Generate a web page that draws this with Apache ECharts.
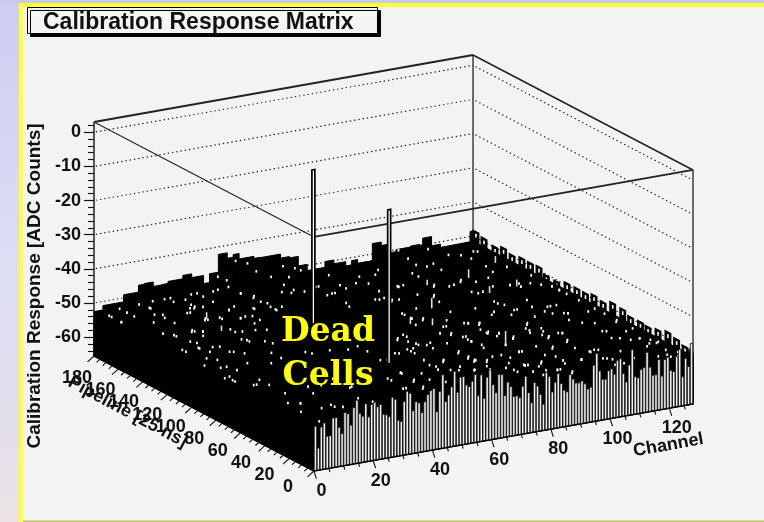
<!DOCTYPE html>
<html><head><meta charset="utf-8">
<style>html,body{margin:0;padding:0;background:#f3f3f3}#c{width:764px;height:522px}</style>
<script src="https://cdn.jsdelivr.net/npm/echarts@6/dist/echarts.min.js"></script>
</head><body><div id="c"></div>
<script>
const chartTitle = 'Calibration Response Matrix';
const valueTicks = [0,-10,-20,-30,-40,-50,-60];
const valueMinorTicks = [2,-2,-4,-6,-8,-12,-14,-16,-18,-22,-24,-26,-28,-32,-34,-36,-38,-42,-44,-46,-48,-52,-54,-56,-58,-62,-64];
const channelTicks = [0,20,40,60,80,100,120];
const channelMinorTicks = [5,10,15,25,30,35,45,50,55,65,70,75,85,90,95,105,110,115,125];
const pipelineTicks = [0,20,40,60,80,100,120,140,160,180];
const pipelineMinorTicks = [5,10,15,25,30,35,45,50,55,65,70,75,85,90,95,105,110,115,125,130,135,145,150,155,165,170,175];
const channelMax = 128, pipelineMax = 180, valueTop = 3, valueFloor = -65.5;

// ADC response of the front row (pipeline 0), one per channel
const frontRow = [-52.5,-59,-53,-52,-56,-56,-51,-51,-54,-56,-50,-50.5,-54,-49,-47,-51,-52,-48.5,-52.5,-49,-48.5,-50,
-49.5,-52.5,-52.8,-53.5,-48,-48.7,-55,-55.5,-49.8,-47,-47.7,-53,-50.5,-51,-54,-51,-49,-48,-47.6,-54.5,-48.7,-44,-52,
-50.2,-48,-43.6,-49.9,-45.6,-45.6,-48.2,-48.8,-47.4,-45.6,-52,-46,-53,-47,-45,-49.5,-52,-46.8,-47,-53.3,-49.5,-51,-54,
-54,-54.7,-51.5,-48.7,-53.7,-56.8,-51,-52.2,-54.8,-57.8,-48.7,-50,-54.7,-52,-49.6,-52.7,-54.8,-55.4,-50.5,-52,-53.3,
-53.4,-53,-54,-55.7,-55.3,-49,-45.7,-51,-53.6,-53.7,-51.4,-51,-52.7,-48.8,-48.5,-53,-55.6,-50.8,-46.5,-54.5,-55,-52.7,
-52.3,-48,-52.5,-55,-55,-50.7,-55.7,-51,-50.5,-54.5,-55,-50.7,-48.8,-57,-51.8,-54.3,-47.7];

// rear row (pipeline 180) outline: [first channel, last channel, value]
const rearRow = [[0,2,-52.5],[3,5,-51.2],[6,9,-51.2],[10,14,-49.1],[15,16,-47.1],[17,19,-46.9],[20,22,-48.2],[23,24,-48.1],
[25,29,-47.5],[30,32,-46.5],[33,36,-47.6],[37,38,-50],[39,41,-47.4],[42,44,-42.2],[45,46,-43.8],[47,48,-43],[49,53,-44.6],
[54,55,-45.2],[56,58,-45.3],[59,62,-45.3],[63,65,-46.5],[66,68,-46.9],[69,71,-49.7],[72,73,-51.5],[74,77,-51.5],[78,80,-49.8],
[81,84,-50.9],[85,86,-52.9],[87,88,-50.9],[89,93,-52],[94,96,-47],[97,98,-48],[99,101,-50.6],[102,106,-50],[107,109,-49.7],
[110,110,-50],[111,113,-48],[114,116,-50.7],[117,122,-51.7],[123,125,-51.7],[126,126,-51.7],[127,127,-48.5]];

// last channel column outline: [pipeline, value]
const rightColumn = [[177.6,-48.3],[171,-49],[162,-49.8],[155,-48.8],[148,-49.6],[140,-49],[133,-49.1],[126,-48.9],[120,-50.3],
[111.5,-50.5],[103,-49.4],[95,-49.4],[88,-49.5],[81,-48.8],[73.5,-49.4],[65.7,-48.2],[57.5,-48.5],[51,-49.6],[43,-49.5],
[36.8,-49.8],[28.6,-49.2],[20.5,-48.3],[13.4,-49],[6.5,-49.9],[1,-50.4]];

// dead cells: [channel, pipeline, value]
const deadCells = [[48,118,-6.8],[48,56,-6.9]];
const surfaceLevel = -52;

// bins whose lit top shows through the mass: [channel, pipeline]
const litBins = [[22,157],[25,162],[27,163],[29,161],[24,147],[15,134],[17,132],[15,127],[28,145],[34,152],[33,140],[35,141],[37,140],[41,148],[46,143],[49,145],
[25,129],[25,125],[27,124],[23,115],[24,111],[28,108],[29,104],[24,93],[34,121],[31,123],[37,134],[3,112],[8,114],[9,107],[5,100],[7,96],[1,92],[4,86],[14,103],[15,102],
[17,98],[6,86],[7,80],[0,73],[1,67],[5,59],[8,56],[8,64],[19,81],[24,85],[33,87],[34,84],[40,84],[45,81],[49,83],[49,75],[17,46],[21,45],[27,36],[4,31],[7,28],[3,18],
[10,18],[14,20],[16,15],[3,3],[24,22],[9,123],
[81,143],[76,134],[79,134],[79,128],[88,144],[82,129],[90,145],[82,115],[97,137],[92,125],[91,118],[101,134],[106,137],[105,120],[112,125],[117,123],[120,123],[123,121],
[127,113],[117,90],[127,107],[118,78],[114,102],[105,104],[107,93],[112,93],[113,85],[76,112],[76,104],[79,102],[89,104],[87,88],[91,85],[89,73],[91,69],[103,88],[103,75],
[99,63],[101,58],[107,56],[102,55],[66,84],[62,82],[65,74],[67,70],[80,88],[78,77],[80,72],[80,65],[81,59],[87,54],[92,60],[64,49],[72,56],[71,46],[72,42],[74,38],[82,26],
[87,25],[88,14],[93,20],[87,43],[48,62],[47,43],[58,46],[67,31],[63,34],[41,36],[47,32],[46,22],[54,23],[40,24],[92,34],[98,42],[79,32],[67,65],[60,66],
[1,168],[1,160],[7,176],[7,170],[14,177],[15,170],[19,178],[23,178],[25,178],[24,173],[28,173],[23,157],[26,161],[34,178],[34,173],[41,178],[34,165],[45,179],[37,155],[34,152],
[45,169],[46,161],[41,149],[46,155],[46,147],[46,142],[56,162],[24,145],[32,178],[7,164],[9,153],[15,160],[14,148],[27,166],[28,143],[33,140],[34,131],[6,138],[17,132],[14,134],
[65,178],[60,170],[60,162],[62,158],[68,161],[76,172],[69,150],[74,158],[74,153],[79,157],[83,164],[82,154],[88,163],[91,168],[77,133],[88,145],[88,144],[98,157],[98,152],
[104,175],[103,166],[105,162],[108,164],[107,155],[98,139],[103,135],[107,139],[104,123],[116,171],[119,168],[124,170],[89,131],[93,127],[80,130],[67,136],[66,149],
[120,162],[125,169],[120,150],[119,142],[110,134],[107,121],[105,107],[115,136],[125,145],[117,123],[119,119],[127,130],[125,117],[127,113],[127,107],[127,101],[127,91],[124,76],
[127,78],[127,70],[126,58],[124,45],[127,47],[124,34],[126,30],[127,26],[125,5],[82,27],[92,60],[87,54],[90,83],[88,72],[91,69],[72,43],[71,28],[102,73],[104,66],[102,55],[117,79],
[119,90],[88,43],[97,40],[104,45],[105,29],[105,18],[105,8],[99,21],[106,101],[98,92],[97,103],[116,90],[115,70],[119,49],
[1,170],[1,160],[15,171],[13,162],[14,156],[8,132],[15,136],[23,145],[12,112],[1,69],[24,113],[47,163],[45,169],[10,120],[3,115],
[50,61],[47,43],[41,24],[63,84],[62,69],[59,53],[64,49],[73,68],[80,68],[67,31],[78,43],[92,60],[82,26],[85,22],[88,14],[90,7],[106,17],[107,15],[113,12],[123,6],[82,11],[77,20],
[72,33],[58,39],[65,38],[52,38],[88,77],[89,66],[100,66],[101,53],[107,56],[99,21],[107,30],[119,38],[121,34],[122,23],[126,25],[125,15],[127,10],[56,66],[80,130],[76,110],[84,95],
[88,87],[100,95],[106,93],[108,81],[114,81],[94,46],[94,24],[108,8],
[8,43],[7,28],[15,37],[4,59],[2,74],[13,86],[14,111],[8,113],[8,134],[14,17],[28,37],[27,50],[26,15],[41,39],[55,67],[66,131],[67,161],[68,150],[58,159],[47,152],[39,177],
[76,105],[78,100],[74,96],[66,87],[64,78],[65,72],[60,69],[60,63],[69,72],[76,81],[79,79],[81,88],[88,87],[91,85],[81,72],[80,65],[88,71],[91,69],[93,62],[100,69],[103,62],[106,57],
[105,47],[103,36],[105,28],[94,30],[88,27],[83,26],[77,23],[81,43],[75,40],[71,41],[72,48],[71,54],[63,47],[59,43],[61,36],[67,31],[71,28],[76,27],[81,17],[85,16],[89,14],[91,9],
[99,21],[87,43],[82,38],[80,55],[51,29],[46,30],[47,42],[45,20],[108,29],[113,23],[117,40],[124,34],[127,60],[118,50],[120,61],[118,78],[117,64],[124,26],[120,9],[123,9]];

// lit bins on the raised rear rim: [channel, value]
const rimBins = [[41,-48.2],[44,-49.7],[47,-44.5],[51,-45.8],[54,-48.6],[59,-51],[63,-48.5],[67,-49.7],[69,-50.6],[92,-51],[112,-51],[102,-49.8]];
// long open slits: [channel, pipeline, depth in ADC]
const slitBins = [[86,112,3],[87,54,4],[24,146,2],[110,140,2.5],[124,152,2],[118,120,2],[108,118,2],[78,92,2],[73,98,1.6],[96,140,1.6],[22,129,1.6]];

const gridLevels = valueTicks;
// frame edges: [c0,p0,v0,c1,p1,v1,width]
const frameEdges = [
 [0,180,valueTop,channelMax,180,valueTop,1.8],
 [channelMax,180,valueTop,channelMax,0,valueTop,1.5],
 [0,180,valueTop,0,0,valueTop,1.1],
 [0,0,valueTop,channelMax,0,valueTop,1.8],
 [channelMax,180,valueTop,channelMax,180,-50,1.3],
 [channelMax,0,valueTop,channelMax,0,valueFloor,1.3],
 [0,180,valueTop,0,180,valueFloor,1.5]];
const axisTitles = [['Channel',118,0,5,36,10],['Pipeline [25 ns]',null,150,-3,37,-28]];
const deadLabel = ['Dead','Cells'];

const chanRise = 0.1532, pipeFall = 0.18697, pipeSkew = 0.4127;
function project(api,c,p,v){
  return api.coord([c - p*pipeSkew, v + c*chanRise - (pipelineMax-p)*pipeFall]);
}
function poly(points,style){return {type:'polygon',shape:{points},style};}
function line(a,b,style){return {type:'line',shape:{x1:a[0],y1:a[1],x2:b[0],y2:b[1]},style};}
const labelFont = 'bold 18px "Liberation Sans"';
function custom(data,renderItem,z){return {type:'custom',data,renderItem,silent:true,animation:false,z:z||2,clip:false};}
function box(api,c0,c1,p,v,fill,stroke,w){
  return poly([project(api,c0,p,valueFloor),project(api,c1,p,valueFloor),project(api,c1,p,v),project(api,c0,p,v)],{fill,stroke,lineWidth:w});
}

const series = [
 custom(gridLevels.map(v=>[v]),(x,api)=>{
   const v=api.value(0), st={stroke:'#222',lineWidth:1.2,lineDash:[1.4,2.9],fill:null};
   return {type:'group',children:[
     line(project(api,0.6,pipelineMax,v),project(api,channelMax,pipelineMax,v),st),
     line(project(api,channelMax,pipelineMax-2,v),project(api,channelMax,1,v),st)]};
 },2),
 custom(frameEdges,(x,api)=>line(project(api,api.value(0),api.value(1),api.value(2)),project(api,api.value(3),api.value(4),api.value(5)),{stroke:'#222',lineWidth:api.value(6),fill:null}),3),
 custom(rearRow,(x,api)=>box(api,api.value(0),api.value(1)+1,pipelineMax,api.value(2),'#000','#000',1),4),
 custom(rightColumn,(x,api)=>{
   const p=api.value(0),v=api.value(1),a=project(api,channelMax,Math.max(p-2.3,0),v),b=project(api,channelMax,Math.min(p+2.3,pipelineMax),v);
   const fa=project(api,channelMax,Math.max(p-2.3,0),valueFloor),fb=project(api,channelMax,Math.min(p+2.3,pipelineMax),valueFloor);
   const s0=project(api,channelMax,p,v-0.6),s1=project(api,channelMax,p,v-1.7);
   return {type:'group',children:[poly([fa,fb,b,a],{fill:'#000',stroke:'#000',lineWidth:1.3}),
     line(s0,s1,{stroke:'#fff',lineWidth:1.6,fill:null})]};
 },4),
 custom([[0]],(x,api)=>poly([project(api,0,0,valueFloor),project(api,channelMax,0,valueFloor),project(api,channelMax,0,-51.5),
     project(api,channelMax,pipelineMax,-51.5),project(api,0,pipelineMax,-53.5),project(api,0,pipelineMax,valueFloor)],{fill:'#000',stroke:'#000',lineWidth:1}),5),
 custom(litBins,(x,api)=>{
   const q=project(api,api.value(0),api.value(1),surfaceLevel);
   return {type:'rect',shape:{x:q[0]-0.9,y:q[1]-1.3,width:1.8,height:2.6},style:{fill:'#fff'}};
 },6),
 custom(rimBins,(x,api)=>{
   const q=project(api,api.value(0),pipelineMax-2,api.value(1));
   return {type:'rect',shape:{x:q[0]-0.9,y:q[1]-1.3,width:1.8,height:2.6},style:{fill:'#fff'}};
 },6),
 custom(slitBins,(x,api)=>{
   const c=api.value(0),p=api.value(1);
   return line(project(api,c,p,surfaceLevel+api.value(2)),project(api,c,p,surfaceLevel),{stroke:'#ddd',lineWidth:1.6,fill:null});
 },6),
 custom(deadCells,(x,api)=>{
   const c=api.value(0),p=api.value(1),v=api.value(2),
     a=project(api,c,p,surfaceLevel),b=project(api,c+1,p,surfaceLevel),d=project(api,c+1,p,v),e=project(api,c,p,v);
   return poly([a,b,d,e],{fill:'#fff',stroke:'#000',lineWidth:1.7});
 },7),
 custom(frontRow.map((v,i)=>[i,v]),(x,api)=>box(api,api.value(0)+0.08,api.value(0)+0.92,0,api.value(1),'#eee','#111',0.85),8),
 custom([[0,0,valueFloor,channelMax,0,valueFloor],[0,0,valueFloor,0,pipelineMax,valueFloor]],(x,api)=>
   line(project(api,api.value(0),api.value(1),api.value(2)),project(api,api.value(3),api.value(4),api.value(5)),{stroke:'#000',lineWidth:1.5,fill:null}),9),
 custom(channelTicks.map(c=>[c,8]).concat(channelMinorTicks.map(c=>[c,4])),(x,api)=>{
   const q=project(api,api.value(0),0,valueFloor),n=api.value(1);
   return line(q,[q[0]+0.3*n,q[1]+0.95*n],{stroke:'#111',lineWidth:1.1,fill:null});
 },9),
 custom(pipelineTicks.map(p=>[p,9]).concat(pipelineMinorTicks.map(p=>[p,5])),(x,api)=>{
   const q=project(api,0,api.value(0),valueFloor),n=api.value(1);
   return line(q,[q[0]-0.72*n,q[1]+0.65*n],{stroke:'#111',lineWidth:1.1,fill:null});
 },9),
 custom(channelTicks.map(c=>[c]),(x,api)=>{
   const c=api.value(0),q=project(api,c,0,valueFloor);
   return {type:'text',x:q[0]+7.5,y:q[1]+20,style:{text:String(c),font:labelFont,fill:'#111',align:'center',verticalAlign:'middle'}};
 },9),
 custom(pipelineTicks.map(p=>[p]),(x,api)=>{
   const p=api.value(0),q=project(api,0,p,valueFloor);
   return {type:'text',x:q[0]-26+0.05*p,y:q[1]+16+0.035*p,style:{text:String(p),font:labelFont,fill:'#111',align:'center',verticalAlign:'middle'}};
 },9),
 custom(axisTitles.map((t,i)=>[i]),(x,api)=>{
   const t=axisTitles[api.value(0)],q=project(api,t[1]===null?0:t[1],t[2],valueFloor);
   return {type:'text',x:q[0]+t[3],y:q[1]+t[4],rotation:t[5]*Math.PI/180,style:{text:t[0],font:labelFont,fill:'#111',align:'center',verticalAlign:'middle'}};
 },9)
];

const yBase = {type:'value',position:'left',min:valueFloor-pipelineMax*pipeFall,max:valueTop+channelMax*chanRise,splitLine:{show:false},axisLine:{show:false,onZero:false}};
const chart = echarts.init(document.getElementById('c'),null,{renderer:'canvas'});
chart.setOption({
 animation:false,
 backgroundColor:'#f3f3f3',
 title:{text:chartTitle,left:27,top:7,padding:[4,24,0,16],backgroundColor:'#f5f5f5',borderColor:'#000',borderWidth:1,
   shadowColor:'#000',shadowOffsetX:3,shadowOffsetY:3,shadowBlur:0,
   textStyle:{fontFamily:'Liberation Sans',fontWeight:'bold',fontSize:23,color:'#111'}},
 grid:{left:94,top:55,width:599,height:416},
 xAxis:{type:'value',show:false,min:-pipelineMax*pipeSkew,max:channelMax},
 yAxis:[
  Object.assign({},yBase,{
   name:'Calibration Response [ADC Counts]',nameLocation:'middle',nameGap:44,nameRotate:90,
   nameTextStyle:{fontFamily:'Liberation Sans',fontWeight:'bold',fontSize:19,color:'#111',padding:[0,46,0,0]},
   axisTick:{show:true,length:10,customValues:valueTicks,lineStyle:{color:'#111',width:1.2}},
   axisLabel:{show:true,customValues:valueTicks,margin:13,fontFamily:'Liberation Sans',fontWeight:'bold',fontSize:18,color:'#111'}}),
  Object.assign({},yBase,{
   axisTick:{show:true,length:6,customValues:valueMinorTicks,lineStyle:{color:'#111',width:1.1}},
   axisLabel:{show:false}})
 ],
 graphic:[
  {type:'rect',z:-10,shape:{x:0,y:0,width:19,height:522},style:{fill:new echarts.graphic.LinearGradient(0,0,0,1,[{offset:0,color:'#cdcdf2'},{offset:.55,color:'#dfdff5'},{offset:.85,color:'#e4dfea'},{offset:1,color:'#ebe3e6'}])}},
  {type:'rect',z:-10,shape:{x:0,y:0,width:764,height:3},style:{fill:'#c9c9ee'}},
  {type:'rect',z:-9,shape:{x:19,y:3,width:745,height:4},style:{fill:'#ffff33'}},
  {type:'rect',z:-9,shape:{x:19,y:3,width:4,height:519},style:{fill:'#ffff33'}},
  {type:'rect',z:-9,shape:{x:23,y:520.5,width:741,height:1.5},style:{fill:'#c8c85a'}},
  {type:'text',z:50,x:328,y:332,style:{text:deadLabel[0],font:'bold 33px "DejaVu Serif"',fill:'#ffff00',align:'center',verticalAlign:'middle'}},
  {type:'text',z:50,x:328,y:376,style:{text:deadLabel[1],font:'bold 33px "DejaVu Serif"',fill:'#ffff00',align:'center',verticalAlign:'middle'}}
 ],
 series
});
</script></body></html>
